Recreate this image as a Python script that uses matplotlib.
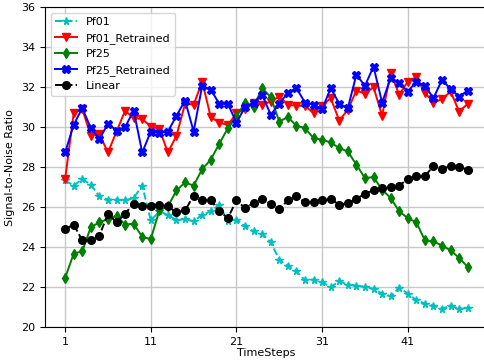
import matplotlib
matplotlib.use("Agg")
import matplotlib.pyplot as plt
import numpy as np

# =============================================================================
# Data
# =============================================================================
steps = np.arange(1, 49)

pf01 = [27.33, 27.07, 27.40, 27.12, 26.53, 26.37, 26.37, 26.33, 26.45, 27.07,
        25.33, 25.78, 25.62, 25.33, 25.40, 25.28, 25.62, 25.78, 26.12, 25.28,
        25.37, 25.03, 24.78, 24.67, 24.23, 23.37, 23.03, 22.78, 22.33, 22.37,
        22.23, 22.00, 22.28, 22.12, 22.07, 22.00, 21.90, 21.67, 21.53, 21.95,
        21.67, 21.33, 21.17, 21.07, 20.90, 21.07, 20.90, 20.95]

pf01_retrained = [27.40, 30.70, 30.90, 29.57, 29.65, 28.73, 29.78, 30.82,
                  30.45, 30.40, 30.03, 29.90, 28.73, 29.57, 31.17, 31.12,
                  32.28, 30.50, 30.23, 30.10, 30.70, 30.90, 31.20, 31.12,
                  31.28, 31.53, 31.12, 31.07, 31.07, 30.70, 31.07, 31.45,
                  30.33, 30.87, 31.83, 31.67, 32.00, 30.57, 32.73, 31.62,
                  32.28, 32.50, 31.73, 31.23, 31.40, 31.78, 30.78, 31.17]

pf25 = [22.45, 23.67, 23.78, 25.00, 25.23, 25.40, 25.57, 25.12, 25.17, 24.50,
        24.40, 25.83, 26.03, 26.83, 27.23, 27.07, 27.90, 28.37, 29.17, 29.95,
        30.53, 31.23, 31.03, 31.95, 31.50, 30.28, 30.50, 30.07, 29.95, 29.45,
        29.37, 29.23, 28.95, 28.78, 28.12, 27.45, 27.50, 26.87, 26.45, 25.78,
        25.45, 25.23, 24.33, 24.28, 24.07, 23.83, 23.45, 23.00]

pf25_retrained = [28.73, 30.12, 30.95, 29.95, 29.40, 30.17, 29.83, 30.00,
                  30.83, 28.73, 29.78, 29.70, 29.78, 30.57, 31.33, 29.78,
                  32.07, 31.87, 31.17, 31.15, 30.23, 31.00, 31.23, 31.62,
                  30.62, 31.17, 31.73, 31.95, 31.23, 31.12, 30.90, 31.95,
                  31.17, 30.95, 32.62, 32.07, 33.03, 31.23, 32.45, 32.20,
                  31.78, 32.28, 32.07, 31.45, 32.37, 31.90, 31.53, 31.83]

linear = [24.90, 25.12, 24.33, 24.33, 24.57, 25.67, 25.23, 25.67, 26.17, 26.03,
          26.07, 26.12, 26.03, 25.73, 25.83, 26.57, 26.33, 26.33, 25.78, 25.45,
          26.33, 25.95, 26.20, 26.40, 26.17, 25.90, 26.33, 26.53, 26.23, 26.23,
          26.33, 26.40, 26.12, 26.20, 26.40, 26.67, 26.83, 26.95, 27.00, 27.07,
          27.40, 27.53, 27.53, 28.07, 27.90, 28.07, 28.00, 27.87]

series = [
    ("Pf01", pf01, "c", "--", "*"),
    ("Pf01_Retrained", pf01_retrained, "r", "-", "v"),
    ("Pf25", pf25, "g", "-", "d"),
    ("Pf25_Retrained", pf25_retrained, "b", "-", "X"),
    ("Linear", linear, "k", "--", "o"),
]

xtick_values = [1, 11, 21, 31, 41]

# =============================================================================
# Plotting
# =============================================================================
plt.rcParams["font.size"] = 8

fig = plt.figure(figsize=(4.84, 3.62), dpi=100)
# the reference is cropped on the right: the axes run past the edge
ax = fig.add_axes([0.093, 0.097, 0.915, 0.883])

for label, values, color, style, marker in series:
    ax.plot(steps, values, color=color, linestyle=style, marker=marker,
            markersize=5.5, linewidth=1.4, label=label)

ax.set_ylim(20, 36)
ax.set_xticks(xtick_values)
ax.grid(True, color="#c8c8c8", linewidth=1.0)
ax.set_axisbelow(True)
ax.set_xlabel("TimeSteps", labelpad=1)
ax.set_ylabel("Signal-to-Noise Ratio")
ax.legend(loc="upper left", fontsize=8)

fig.savefig("out.png", dpi=100)
